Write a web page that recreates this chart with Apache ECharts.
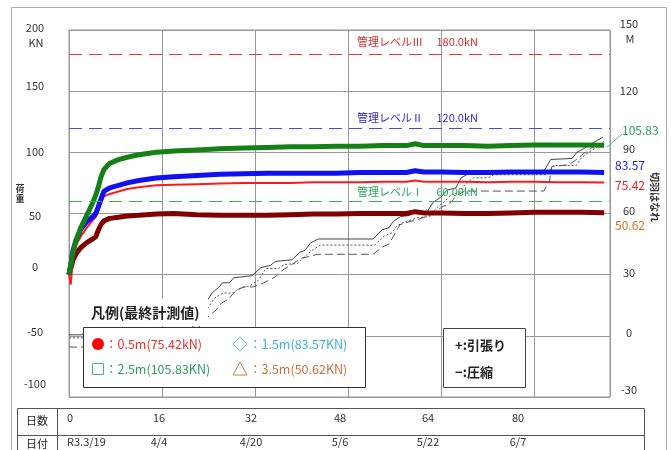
<!DOCTYPE html>
<html><head><meta charset="utf-8">
<script src="https://cdn.jsdelivr.net/npm/echarts@6/dist/echarts.min.js"></script>
<style>html,body{margin:0;padding:0;background:#fff}#c{width:671px;height:450px}</style>
</head><body><div id="c"></div>
<script>
// ---- data ----
const days   = [0,0.3,0.7,1.2,2,3,4,4.6,5,5.5,6,7,8.5,10,12,15,18,22,26,30,34,38,42,46,50,54,58,59.5,61,64,68,72,76,80,84,88,92];
const load25 = [0,8,18,28,38,48,58,65,71,80,86,91,94,96,98,100,101,102,103,103.5,104,104.5,104.5,105,105,105.5,105.5,107,105.5,105.5,105.5,105,105.5,106,106,106,105.83];
const load15 = [0,8,20,28,37,43,47,50,55,62,68,71,73,75,77,79,80,81,82,82.5,83,83,83,83,83.5,83.5,83.5,85,84,84,83.5,83.5,84,84,84,84,83.57];
const load05 = [0,-8,15,24,31,38,44,47,52,58,64,66,68,70,71.5,73,73.5,74,74.5,75,75,75,75.5,75.5,75.5,76,76,77,76,76,76,75.5,76,76,75.5,75.5,75.42];
const load35 = [0,5,12,17,22,26,29,31,36,41,44,46,47,48,48.5,49.5,50,49,48.5,48.5,48.5,49,49.5,49.5,50,50,50,51.5,50.5,50.5,50,50,50.5,51,51,51,50.62];

const faceSolid  = [[0,0.5],[2.3,0.5],[2.6,2],[21,3],[23,14],[24.6,21],[25.8,24],[26.4,26],[27.6,26],[28.3,28.5],[31.5,29.5],[33,33.5],[34.6,34.5],[35.5,36.5],[38.3,37.3],[39.7,41],[40.6,42],[41.5,45.5],[42.8,47.5],[52.3,47.5],[53.8,52],[55,53],[55.7,56],[57,58.5],[58.5,59],[59.3,60.5],[61.6,61],[62.6,65.5],[63.9,68],[65,71.5],[66.5,72.5],[67.4,77.5],[69,80],[81.6,80.5],[82.8,86.5],[86.5,87],[87.3,90],[88.6,92],[90.3,95],[91.8,97.5]];
const faceDotted = [[0,-1],[2.5,-1],[3,0.5],[21,2],[23.5,12],[25,18.5],[26.5,21],[28.3,21],[29,23],[31,24.5],[32.5,27],[33.8,33],[36,33],[37,35],[39.3,35.5],[40.4,38.5],[41.8,42],[43.2,44.5],[52.6,44.5],[54.2,49],[55.5,50.5],[56.4,54],[57.8,56],[59,57],[60,58],[62,58.5],[63.3,63],[64.6,66],[65.8,69.5],[67,70],[68,74],[69.5,77.5],[72,77.5],[73,79],[81.9,79],[83.3,83.5],[87.2,83.5],[88,87],[89.3,90],[91,93],[92.2,96]];
const faceDashed = [[0,-5.5],[2.6,-5.5],[3.1,-3],[21,0],[23.8,9],[25.3,12.7],[26.2,16],[27.4,18],[28.6,22],[30,24],[31.7,24],[33.5,26],[35.5,29],[36.6,32],[38.3,35],[39.9,38],[42.8,40],[52.3,40],[53.8,43.5],[55,45],[56.9,54.5],[58.5,56],[60,57],[62.6,60],[64,63],[65.5,65],[66.5,68.5],[68,71],[81.6,71],[82.6,76],[83,83],[86,84],[87,86],[88.3,89],[89.8,92],[91.3,94.5]];

const levels     = [180, 120, 60];
const levelNames = ['管理レベルⅢ', '管理レベルⅡ', '管理レベルⅠ'];
const levelTexts = ['180.0kN', '120.0kN', '60.00kN'];
const finalLabels = ['105.83', '83.57', '75.42', '50.62'];
const legendTexts = ['：0.5m(75.42kN)', '：1.5m(83.57KN)', '：2.5m(105.83KN)', '：3.5m(50.62KN)'];
const dayTicks  = ['0', '16', '32', '48', '64', '80'];
const dateTicks = ['R3.3/19', '4/4', '4/20', '5/6', '5/22', '6/7'];

// ---- chart ----
const FONT = '"Noto Sans CJK JP","Noto Sans",sans-serif';
const chart = echarts.init(document.getElementById('c'));
const pair = arr => days.map((d, i) => [d, arr[i]]);

const levelColors = ['#e23a3a', '#4a4ae0', '#3cb04a'];
const levelTextColors = ['#e02828', '#2a2ad8', '#2aaa5a'];

// label vertical nudges (px, negative = up) to mimic the original placement
const leftNudge  = {'200':-2, '150':-5, '100':-1, '50':2, '0':-8, '-50':-4, '-100':-13};
const rightNudge = {'150':-6, '120':0, '90':-4, '60':-3, '30':-2, '0':-3, '-30':-7};
function richFor(map) {
  const r = {};
  Object.keys(map).forEach(k => {
    const d = map[k];
    r['k' + String(k).replace('-', 'm')] = {color:'#333', fontSize:11, fontFamily:FONT,
      padding: d < 0 ? [0, 0, -2 * d, 0] : [2 * d, 0, 0, 0]};
  });
  return r;
}
const labelFmt = v => '{k' + String(v).replace('-', 'm') + '|' + v + '}';

const graphics = [];
graphics.push({type:'rect', z:0, shape:{x:11.5,y:7.5,width:655,height:470}, style:{fill:'none', stroke:'#aaa', lineWidth:1}});
graphics.push({type:'text', z:100, x:36, y:43, style:{text:'KN', font:'11px '+FONT, fill:'#333', align:'center', verticalAlign:'middle'}});
graphics.push({type:'text', z:100, x:630, y:39, style:{text:'M', font:'11px '+FONT, fill:'#333', align:'center', verticalAlign:'middle'}});
graphics.push({type:'text', z:100, x:20, y:194, style:{text:'荷\n重', font:'bold 9px '+FONT, lineHeight:10, fill:'#333', align:'center', verticalAlign:'middle'}});
graphics.push({type:'text', z:100, x:655, y:197, rotation:-Math.PI/2, style:{text:'切羽はなれ', font:'bold 10px '+FONT, fill:'#333', align:'center', verticalAlign:'middle'}});
const levelLabelY = [42, 118, 192];
levels.forEach((lv, i) => {
  graphics.push({type:'text', z:100, x:357, y:levelLabelY[i], style:{text:levelNames[i] + '　 ' + levelTexts[i], font:'11px '+FONT, fill:levelTextColors[i], verticalAlign:'middle'}});
});
const finalPos = [[622,130,'#2aa05a'],[615,165,'#1a1ae0'],[615,185,'#e82020'],[615,225,'#d07020']];
finalLabels.forEach((t, i) => {
  graphics.push({type:'text', z:100, x:finalPos[i][0], y:finalPos[i][1], style:{text:t, font:'12px '+FONT, fill:finalPos[i][2], verticalAlign:'middle'}});
});
graphics.push({type:'line', z:100, shape:{x1:607,y1:147,x2:622,y2:134}, style:{stroke:'#50c080', lineWidth:1}});
graphics.push({type:'rect', z:100, shape:{x:80,y:299,width:128,height:27}, style:{fill:'#fff'}});
graphics.push({type:'text', z:101, x:91, y:313, style:{text:'凡例(最終計測値)', font:'bold 14px '+FONT, fill:'#222', verticalAlign:'middle'}});
graphics.push({type:'rect', z:100, shape:{x:83.5,y:327.5,width:282,height:60}, style:{fill:'#fff', stroke:'#333', lineWidth:1}});
graphics.push({type:'circle', z:101, shape:{cx:98,cy:344,r:6}, style:{fill:'#ff0000'}});
graphics.push({type:'polygon', z:101, shape:{points:[[240,337],[247,344],[240,351],[233,344]]}, style:{fill:'none', stroke:'#5ab8e8', lineWidth:1}});
graphics.push({type:'rect', z:101, shape:{x:92.5,y:363.5,width:11,height:11}, style:{fill:'none', stroke:'#4ab090', lineWidth:1}});
graphics.push({type:'polygon', z:101, shape:{points:[[240,362],[247,375],[233,375]]}, style:{fill:'none', stroke:'#c87a44', lineWidth:1}});
const legPos = [[105,344,'#e83030'],[249,344,'#3ab0e0'],[105,369,'#2aa060'],[249,369,'#c87038']];
legendTexts.forEach((t, i) => {
  graphics.push({type:'text', z:101, x:legPos[i][0], y:legPos[i][1], style:{text:t, font:'12.5px '+FONT, fill:legPos[i][2], verticalAlign:'middle'}});
});
graphics.push({type:'rect', z:100, shape:{x:443.5,y:328.5,width:82,height:59}, style:{fill:'#fff', stroke:'#444', lineWidth:1}});
graphics.push({type:'text', z:101, x:455, y:345, style:{text:'+:引張り', font:'bold 13px '+FONT, fill:'#222', verticalAlign:'middle'}});
graphics.push({type:'text', z:101, x:455, y:372, style:{text:'−:圧縮', font:'bold 13px '+FONT, fill:'#222', verticalAlign:'middle'}});
graphics.push({type:'rect', z:100, shape:{x:17.5,y:408.5,width:627,height:70}, style:{fill:'none', stroke:'#555', lineWidth:1}});
graphics.push({type:'line', z:100, shape:{x1:17.5,y1:435.5,x2:644.5,y2:435.5}, style:{stroke:'#555', lineWidth:1}});
graphics.push({type:'line', z:100, shape:{x1:57.5,y1:408.5,x2:57.5,y2:478}, style:{stroke:'#555', lineWidth:1}});
graphics.push({type:'text', z:100, x:37, y:421, style:{text:'日数', font:'11px '+FONT, fill:'#222', align:'center', verticalAlign:'middle'}});
graphics.push({type:'text', z:100, x:37, y:444, style:{text:'日付', font:'11px '+FONT, fill:'#222', align:'center', verticalAlign:'middle'}});
const tableX = [67, 159, 251, 340, 428, 518];
dayTicks.forEach((t, i) => {
  graphics.push({type:'text', z:100, x:tableX[i], y:418, style:{text:t, font:'11px '+FONT, fill:'#333', align:i===0?'left':'center', verticalAlign:'middle'}});
});
dateTicks.forEach((t, i) => {
  graphics.push({type:'text', z:100, x:tableX[i], y:442, style:{text:t, font:'11px '+FONT, fill:'#333', align:i===0?'left':'center', verticalAlign:'middle'}});
});

const option = {
  animation: false,
  backgroundColor: '#fff',
  grid: {left:69, top:30, right:61, bottom:53, show:true, borderColor:'#999', borderWidth:1},
  xAxis: {type:'value', min:0, max:93, interval:16,
    axisLine:{show:false}, axisTick:{show:false}, axisLabel:{show:false},
    splitLine:{show:true, lineStyle:{color:'#999', width:1}}},
  yAxis: [
    {type:'value', min:-100, max:200, interval:50, position:'left',
      axisLine:{show:false}, axisTick:{show:false},
      axisLabel:{margin:34, align:'center', color:'#333', fontSize:11, fontFamily:FONT, formatter:labelFmt, rich:richFor(leftNudge)},
      splitLine:{show:true, lineStyle:{color:'#999', width:1}}},
    {type:'value', min:-30, max:150, interval:30, position:'right',
      axisLine:{show:false}, axisTick:{show:false},
      axisLabel:{margin:19, align:'center', color:'#333', fontSize:11, fontFamily:FONT, formatter:labelFmt, rich:richFor(rightNudge)},
      splitLine:{show:false}}
  ],
  series: [
    {type:'line', yAxisIndex:1, data:faceDashed, symbol:'none', lineStyle:{color:'#555', width:1, type:[8,4]}, z:1},
    {type:'line', yAxisIndex:1, data:faceDotted, symbol:'none', lineStyle:{color:'#555', width:1, type:[2,2]}, z:1},
    {type:'line', yAxisIndex:1, data:faceSolid, symbol:'none', lineStyle:{color:'#444', width:1}, z:1},
    {type:'line', yAxisIndex:0, data:pair(load35), symbol:'none', lineStyle:{color:'#800000', width:5}, z:3},
    {type:'line', yAxisIndex:0, data:pair(load05), symbol:'none', lineStyle:{color:'#ff1a1a', width:2}, z:3},
    {type:'line', yAxisIndex:0, data:pair(load15), symbol:'none', lineStyle:{color:'#1010f0', width:5}, z:3},
    {type:'line', yAxisIndex:0, data:pair(load25), symbol:'none', lineStyle:{color:'#158015', width:5}, z:3,
      markLine:{silent:true, symbol:'none', label:{show:false},
        data: levels.map((lv, i) => ({yAxis:lv, lineStyle:{color:levelColors[i], width:1, type:[13,7]}}))}}
  ],
  graphic: graphics
};
chart.setOption(option);
</script></body></html>
